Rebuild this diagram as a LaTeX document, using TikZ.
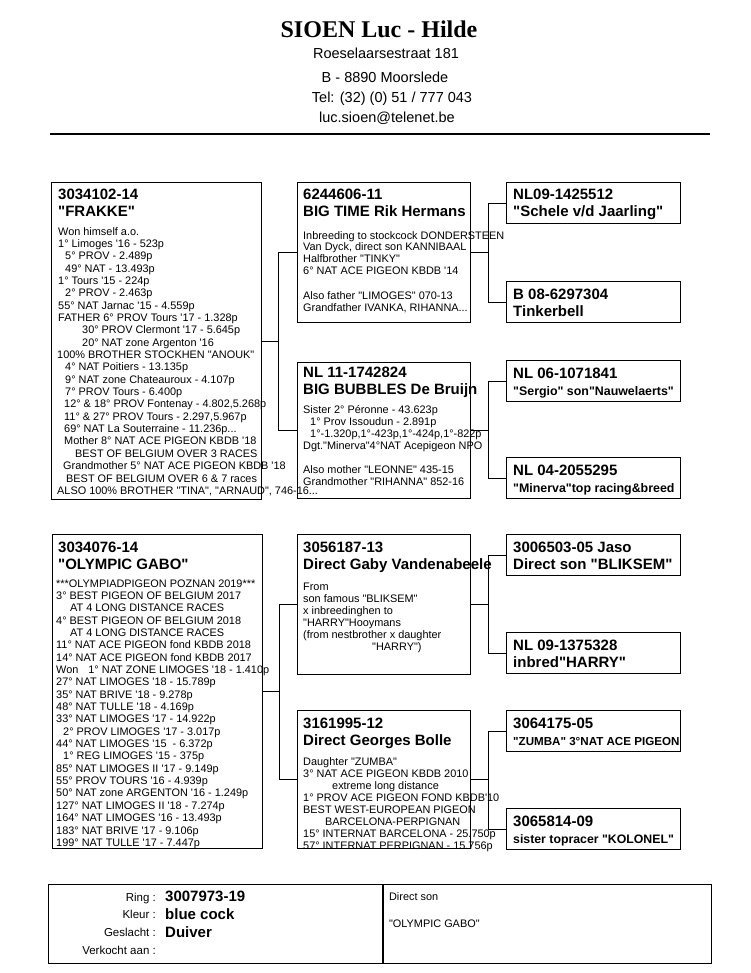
\documentclass[tikz,border=0pt]{standalone}
\usepackage{fontspec}
\newfontfamily\pedfont{Liberation Sans}
\newfontfamily\headfont{Liberation Serif}
\usetikzlibrary{positioning}

\begin{document}
\begin{tikzpicture}[
  x=1pt, y=-1pt,
  pbox/.style={draw,line width=0.9pt,anchor=north west,inner sep=0pt,minimum width=210pt},
  gbox/.style={draw,line width=0.9pt,anchor=north west,inner sep=0pt,minimum width=173pt},
  ggbox/.style={draw,line width=0.9pt,anchor=north west,inner sep=0pt,minimum width=174pt,minimum height=41pt},
  panel/.style={draw,line width=0.9pt,anchor=north west,inner sep=0pt,minimum height=79pt},
  ring/.style={anchor=base west,inner sep=0pt,align=left,font=\pedfont\bfseries\fontsize{15}{17}\selectfont},
  facts/.style={anchor=base west,inner sep=0pt,align=left,font=\pedfont\fontsize{10.9}{12}\selectfont},
  lfacts/.style={facts,font=\pedfont\fontsize{10.9}{12.35}\selectfont},
  addr/.style={anchor=base,inner sep=0pt,font=\pedfont\fontsize{14.5}{17}\selectfont},
  wire/.style={line width=0.7pt}
]
\useasboundingbox (0,0) rectangle (750,973);

% header
\node[anchor=base,inner sep=0pt,font=\headfont\bfseries\fontsize{24}{28}\selectfont] (loft) at (379,38) {SIOEN Luc - Hilde};
\node[addr] (street) at (386,59) {Roeselaarsestraat 181};
\node[addr] (town) at (385,83) {B - 8890 Moorslede};
\node[addr] (tel) at (392,103) {Tel: (32) (0) 51 / 777 043};
\node[addr] (mail) at (387,123) {luc.sioen@telenet.be};
\draw[line width=2.6pt] (50,134) -- (710,134);

% parents (text nodes sit on the baseline of their last line)
\node[pbox,minimum height=317pt] (p1) at (51,182) {};
\node[ring] (p1id) at ([shift={(7,35)}]p1.north west) {3034102-14\\"FRAKKE"};
\node[lfacts] (p1txt) at ([shift={(6,312.35)}]p1.north west) {%
\hspace*{1pt}Won himself a.o.\\
\hspace*{1pt}1° Limoges '16 - 523p\\
\hspace*{8pt}5° PROV - 2.489p\\
\hspace*{8pt}49° NAT - 13.493p\\
\hspace*{1pt}1° Tours '15 - 224p\\
\hspace*{8pt}2° PROV - 2.463p\\
\hspace*{1pt}55° NAT Jarnac '15 - 4.559p\\
\hspace*{1pt}FATHER 6° PROV Tours '17 - 1.328p\\
\hspace*{25pt}30° PROV Clermont '17 - 5.645p\\
\hspace*{25pt}20° NAT zone Argenton '16\\
100\% BROTHER STOCKHEN "ANOUK"\\
\hspace*{8pt}4° NAT Poitiers - 13.135p\\
\hspace*{8pt}9° NAT zone Chateauroux - 4.107p\\
\hspace*{8pt}7° PROV Tours - 6.400p\\
\hspace*{7pt}12° \& 18° PROV Fontenay - 4.802,5.268p\\
\hspace*{7pt}11° \& 27° PROV Tours - 2.297,5.967p\\
\hspace*{7pt}69° NAT La Souterraine - 11.236p...\\
\hspace*{7pt}Mother 8° NAT ACE PIGEON KBDB '18\\
\hspace*{18pt}BEST OF BELGIUM OVER 3 RACES\\
\hspace*{6pt}Grandmother 5° NAT ACE PIGEON KBDB '18\\
\hspace*{9pt}BEST OF BELGIUM OVER 6 \& 7 races\\
ALSO 100\% BROTHER "TINA", "ARNAUD", 746-16...};

\node[pbox,minimum height=314pt] (p2) at (52,534) {};
\node[ring] (p2id) at ([shift={(6,35)}]p2.north west) {3034076-14\\"OLYMPIC GABO"};
\node[lfacts] (p2txt) at ([shift={(4,312.35)}]p2.north west) {%
***OLYMPIADPIGEON POZNAN 2019***\\
3° BEST PIGEON OF BELGIUM 2017\\
\hspace*{14pt}AT 4 LONG DISTANCE RACES\\
4° BEST PIGEON OF BELGIUM 2018\\
\hspace*{14pt}AT 4 LONG DISTANCE RACES\\
11° NAT ACE PIGEON fond KBDB 2018\\
14° NAT ACE PIGEON fond KBDB 2017\\
Won\hspace{7pt} 1° NAT ZONE LIMOGES '18 - 1.410p\\
27° NAT LIMOGES '18 - 15.789p\\
35° NAT BRIVE '18 - 9.278p\\
48° NAT TULLE '18 - 4.169p\\
33° NAT LIMOGES '17 - 14.922p\\
\hspace*{7pt}2° PROV LIMOGES '17 - 3.017p\\
44° NAT LIMOGES '15 \ - 6.372p\\
\hspace*{7pt}1° REG LIMOGES '15 - 375p\\
85° NAT LIMOGES II '17 - 9.149p\\
55° PROV TOURS '16 - 4.939p\\
50° NAT zone ARGENTON '16 - 1.249p\\
127° NAT LIMOGES II '18 - 7.274p\\
164° NAT LIMOGES '16 - 13.493p\\
183° NAT BRIVE '17 - 9.106p\\
199° NAT TULLE '17 - 7.447p};

% grandparents
\node[gbox,minimum height=140pt] (g1) at (297,182) {};
\node[ring] (g1id) at ([shift={(6,35)}]g1.north west) {6244606-11\\BIG TIME Rik Hermans};
\node[facts] (g1txt) at ([shift={(6,129)}]g1.north west) {%
Inbreeding to stockcock DONDERSTEEN\\
Van Dyck, direct son KANNIBAAL\\
Halfbrother "TINKY"\\
6° NAT ACE PIGEON KBDB '14\\[12pt]
Also father "LIMOGES" 070-13\\
Grandfather IVANKA, RIHANNA...};

\node[gbox,minimum height=136pt] (g2) at (297,362) {};
\node[ring] (g2id) at ([shift={(6,32)}]g2.north west) {NL 11-1742824\\BIG BUBBLES De Bruijn};
\node[facts] (g2txt) at ([shift={(6,123)}]g2.north west) {%
Sister 2° Péronne - 43.623p\\
\hspace*{7pt}1° Prov Issoudun - 2.891p\\
\hspace*{7pt}1°-1.320p,1°-423p,1°-424p,1°-822p\\
Dgt."Minerva"4°NAT Acepigeon NPO\\[12pt]
Also mother "LEONNE" 435-15\\
Grandmother "RIHANNA" 852-16};

\node[gbox,minimum height=140pt] (g3) at (297,534) {};
\node[ring] (g3id) at ([shift={(6,35)}]g3.north west) {3056187-13\\Direct Gaby Vandenabeele};
\node[facts] (g3txt) at ([shift={(6,116)}]g3.north west) {%
From\\
son famous "BLIKSEM"\\
x inbreedinghen to\\
"HARRY"Hooymans\\
(from nestbrother x daughter\\
\hspace*{69pt}"HARRY")};

\node[gbox,minimum height=138pt] (g4) at (297,710) {};
\node[ring] (g4id) at ([shift={(6,35)}]g4.north west) {3161995-12\\Direct Georges Bolle};
\node[facts] (g4txt) at ([shift={(6,139)}]g4.north west) {%
Daughter "ZUMBA"\\
3° NAT ACE PIGEON KBDB 2010\\
\hspace*{29pt}extreme long distance\\
1° PROV ACE PIGEON FOND KBDB'10\\
BEST WEST-EUROPEAN PIGEON\\
\hspace*{22pt}BARCELONA-PERPIGNAN\\
15° INTERNAT BARCELONA - 25.750p\\
57° INTERNAT PERPIGNAN - 15.756p};

% great-grandparents
\node[ggbox] (gg1) at (506,182) {};
\node[ring] (gg1id) at ([shift={(7,35)}]gg1.north west) {NL09-1425512\\"Schele v/d Jaarling"};
\node[ggbox] (gg2) at (506,281) {};
\node[ring] (gg2id) at ([shift={(7,35)}]gg2.north west) {B 08-6297304\\Tinkerbell};
\node[ggbox] (gg3) at (506,360) {};
\node[ring] (gg3id) at ([shift={(7,35)}]gg3.north west) {NL 06-1071841\\\fontsize{12.4}{17}\selectfont"Sergio" son"Nauwelaerts"};
\node[ggbox] (gg4) at (506,457) {};
\node[ring] (gg4id) at ([shift={(7,35)}]gg4.north west) {NL 04-2055295\\\fontsize{12.4}{17}\selectfont"Minerva"top racing\&breed};
\node[ggbox] (gg5) at (506,534) {};
\node[ring] (gg5id) at ([shift={(7,35)}]gg5.north west) {3006503-05 Jaso\\Direct son "BLIKSEM"};
\node[ggbox] (gg6) at (506,632) {};
\node[ring] (gg6id) at ([shift={(7,35)}]gg6.north west) {NL 09-1375328\\inbred"HARRY"};
\node[ggbox] (gg7) at (506,710) {};
\node[ring] (gg7id) at ([shift={(7,35)}]gg7.north west) {3064175-05\\\fontsize{11.6}{17}\selectfont"ZUMBA" 3°NAT ACE PIGEON};
\node[ggbox] (gg8) at (506,808) {};
\node[ring] (gg8id) at ([shift={(7,35)}]gg8.north west) {3065814-09\\\fontsize{12.3}{17}\selectfont sister topracer "KOLONEL"};

% forks
\path (p1.east) ++(16,0) coordinate (fp1);
\path (p2.east) ++(16,0) coordinate (fp2);
\draw[wire] (p1.east) -- (fp1);
\draw[wire] (g1.west) -| (fp1) |- (g2.west);
\draw[wire] (p2.east) -- (fp2);
\draw[wire] (g3.west) -| (fp2) |- (g4.west);
\path (g1.east) ++(17,0) coordinate (fg1);
\path (g2.east) ++(17,0) coordinate (fg2);
\path (g3.east) ++(17,0) coordinate (fg3);
\path (g4.east) ++(17,0) coordinate (fg4);
\draw[wire] (g1.east) -- (fg1);
\draw[wire] (gg1.west) -| (fg1) |- (gg2.west);
\draw[wire] (g2.east) -- (fg2);
\draw[wire] (gg3.west) -| (fg2) |- (gg4.west);
\draw[wire] (g3.east) -- (fg3);
\draw[wire] (gg5.west) -| (fg3) |- (gg6.west);
\draw[wire] (g4.east) -- (fg4);
\draw[wire] (gg7.west) -| (fg4) |- (gg8.west);

% sale card
\node[panel,minimum width=334pt] (sale) at (48,884) {};
\node[panel,minimum width=328pt] (remark) at (sale.north east) {};
\node[anchor=base east,inner sep=0pt,align=right,font=\pedfont\fontsize{11.5}{17.7}\selectfont] (keys) at ([shift={(108,70.1)}]sale.north west) {Ring :\\Kleur :\\Geslacht :\\Verkocht aan :};
\node[ring,font=\pedfont\bfseries\fontsize{15}{18}\selectfont] (vals) at ([shift={(117,53)}]sale.north west) {3007973-19\\blue cock\\Duiver};
\node[facts] (remarktxt) at ([shift={(6,43)}]remark.north west) {Direct son\\[15pt]"OLYMPIC GABO"};
\end{tikzpicture}
\end{document}
